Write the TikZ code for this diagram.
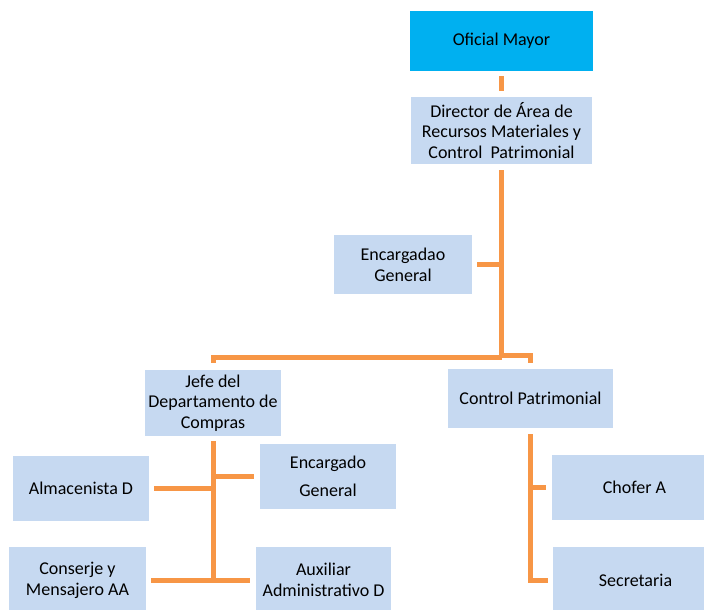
\documentclass[tikz,border=0pt]{standalone}
\usepackage{fontspec}
\setmainfont{Carlito}
\usepackage{xcolor}
\usetikzlibrary{positioning,calc}

\definecolor{ofiblue}{HTML}{00B0F0}
\definecolor{boxblue}{HTML}{C6D9F1}
\definecolor{lineorange}{HTML}{F79646}

\begin{document}
\begin{tikzpicture}[x=1pt,y=-1pt,
    box/.style={fill=boxblue, inner sep=0pt, align=center, font=\fontsize{18}{20.7}\selectfont},
    wire/.style={draw=lineorange, line width=5pt}]
    \clip (0,0) rectangle (704,610);

    % Top
    \node[box, fill=ofiblue, minimum width=183, minimum height=60] (ofi) at (501.5,41) {Oficial Mayor};
    \node[box, minimum width=181, minimum height=67] (dir) at (501.5,130.5) {Director de Área de\\Recursos Materiales y\\Control~~Patrimonial};
    \node[box, minimum width=138, minimum height=59] (enc) at (403,264.5) {Encargadao\\General};

    % Second level
    \node[box, minimum width=136, minimum height=66] (jefe) at (213,403) {Jefe del\\Departamento de\\Compras};
    \node[box, minimum width=165, minimum height=59] (ctrl) at (530.5,398.5) {Control Patrimonial};

    % Compras
    \node[box, minimum width=136, minimum height=65] (alm) at (81,488.5) {Almacenista D};
    \node[box, minimum width=136, minimum height=65] (encg) at (328,476.5) {Encargado\\[7pt]General};
    \node[box, minimum width=137, minimum height=66] (cons) at (77.5,580) {Conserje y\\Mensajero AA};
    \node[box, minimum width=135, minimum height=66] (aux) at (323.5,580) {Auxiliar\\Administrativo D};

    % Patrimonial
    \node[box, minimum width=165, minimum height=65] (chof) at (634.5,487.5) {Chofer A};
    \node[box, minimum width=165, minimum height=66] (secr) at (635.5,580) {Secretaria};

    % Wires
    \coordinate (hub) at (501.5,357.5);
    \coordinate (jbot) at (213,580);
    \coordinate (cbot) at (530.5,580);

    \draw[wire] ([yshift=-5pt]ofi.south) -- ([yshift=6pt]dir.north);
    \draw[wire] ([yshift=-6pt]dir.south) -- (hub);
    \draw[wire] ([xshift=5pt]enc.east) -- (enc.east -| hub);
    \draw[wire] (hub) -| ([yshift=7pt]jefe.north);
    \draw[wire] ([yshift=2pt]hub) -| ([yshift=6pt]ctrl.north);

    \draw[wire] ([yshift=-5pt]jefe.south) -- (jbot);
    \draw[wire] ([xshift=5pt]alm.east) -- (alm.east -| jbot);
    \draw[wire] (encg.west -| jbot) -- ([xshift=-6pt]encg.west);
    \draw[wire] ([xshift=5pt]cons.east) -- ([xshift=-6pt]aux.west);

    \draw[wire] ([yshift=-6pt]ctrl.south) -- (cbot) -- ([xshift=-5pt]secr.west);
    \draw[wire] (chof.west -| cbot) -- ([xshift=-6pt]chof.west);
\end{tikzpicture}
\end{document}
